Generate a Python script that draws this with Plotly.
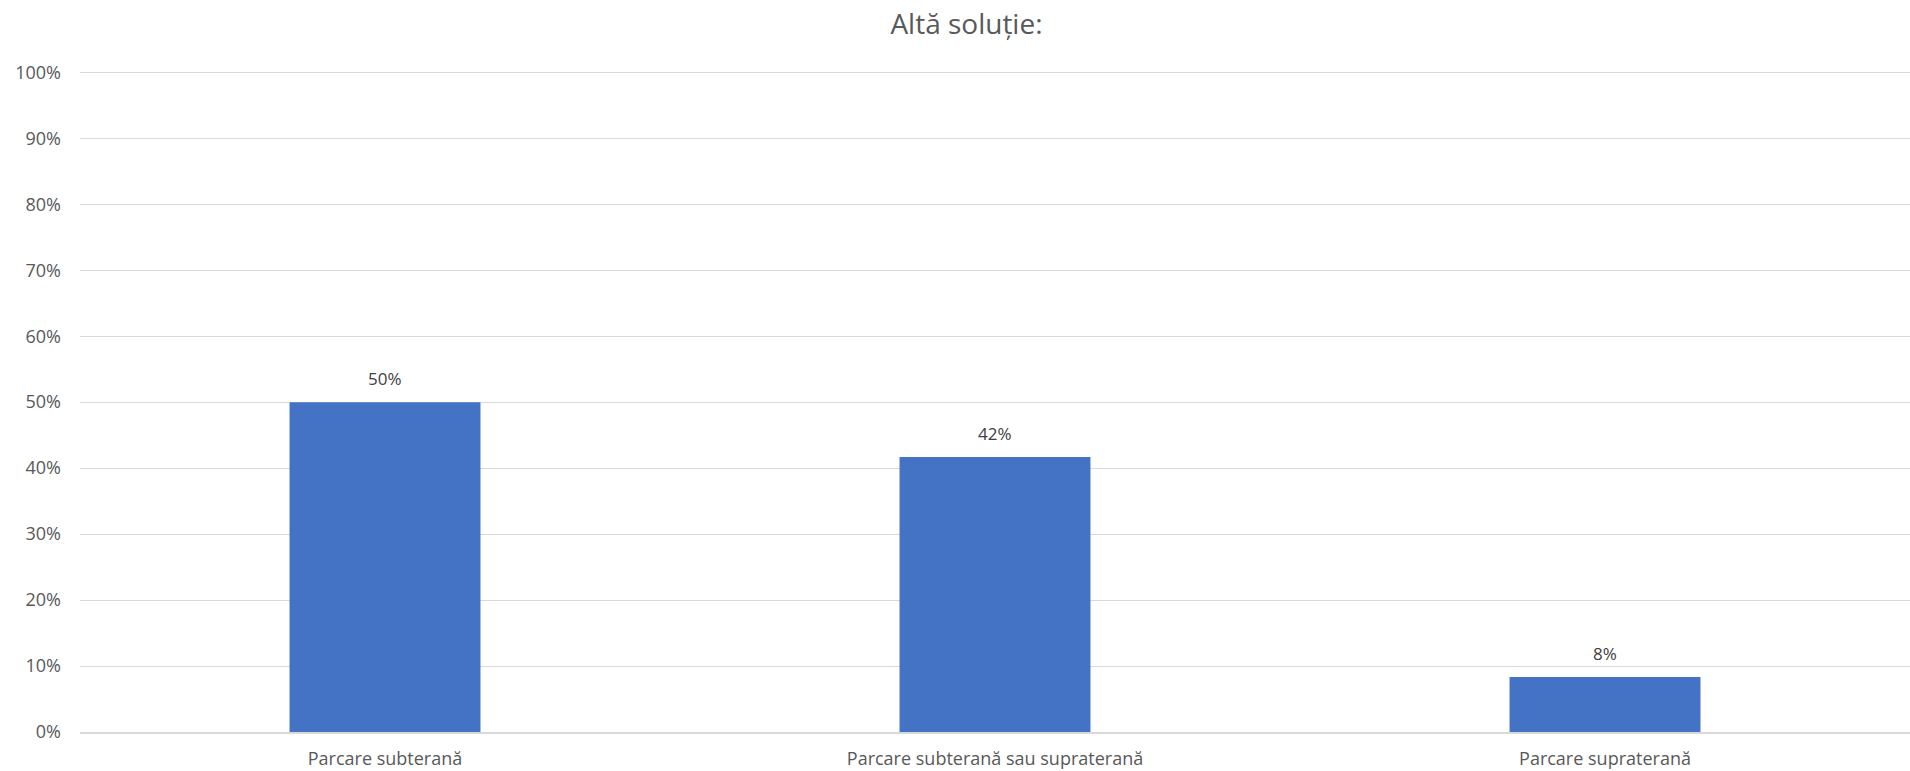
import plotly.graph_objects as go

categories = ["Parcare subterană", "Parcare subterană sau supraterană", "Parcare supraterană"]
values = [50.0, 41.67, 8.33]
labels = ["50%", "42%", "8%"]
y_ticks = [0, 10, 20, 30, 40, 50, 60, 70, 80, 90, 100]
y_tick_labels = [f"{v}%" for v in y_ticks]
title_text = "Altă soluție:"

FONT = "Open Sans, Noto Sans, Liberation Sans, sans-serif"

fig = go.Figure()
fig.add_trace(go.Bar(
    x=categories, y=values,
    marker=dict(color="#4472C4", line=dict(width=0)),
    hoverinfo="skip",
))

for c, v, t in zip(categories, values, labels):
    fig.add_annotation(x=c, y=v, text=t, showarrow=False, yanchor="bottom",
                       yshift=10, font=dict(family=FONT, size=17, color="#404040"))

fig.update_layout(
    width=1910, height=771,
    margin=dict(l=80, r=0, t=71, b=39, autoexpand=False),
    paper_bgcolor="white", plot_bgcolor="white",
    showlegend=False,
    bargap=0.687,
    title=dict(text=title_text, x=0.506, xanchor="center", y=0.969, yanchor="middle",
               font=dict(family=FONT, size=28, color="#595959")),
    xaxis=dict(showgrid=False, showline=True, linecolor="#d9d9d9", linewidth=1.5,
               ticks="", tickfont=dict(family=FONT, size=18, color="#595959"),
               ticklabelstandoff=10, fixedrange=True, automargin=False),
    yaxis=dict(range=[0, 100.2], tickvals=y_ticks, ticktext=y_tick_labels,
               showgrid=True, gridcolor="#d9d9d9", gridwidth=1.2, zeroline=False,
               showline=False, ticks="",
               tickfont=dict(family=FONT, size=18, color="#595959"),
               ticklabelstandoff=18, fixedrange=True, automargin=False),
)

fig.write_html("out.html", config={"displayModeBar": False},
               post_script="document.body.style.margin='0';")
